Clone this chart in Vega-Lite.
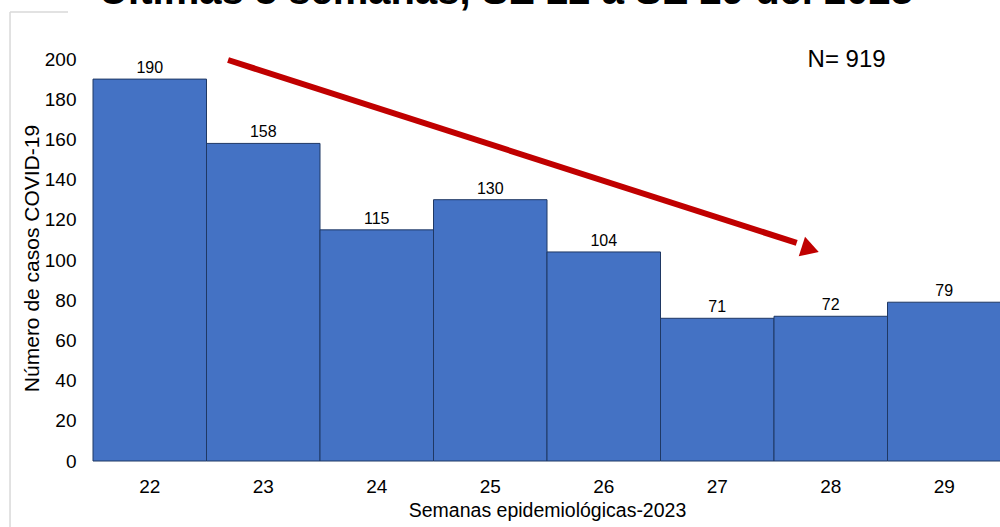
{
  "$schema": "https://vega.github.io/schema/vega-lite/v6.json",
  "autosize": {"type": "none"},
  "width": 908,
  "height": 402,
  "padding": {"left": 93, "top": 59, "right": 0, "bottom": 66},
  "background": "white",
  "config": {"font": "Liberation Sans", "view": {"stroke": null}},
  "datasets": {
    "bars": [
      {"semana": "22", "casos": 190},
      {"semana": "23", "casos": 158},
      {"semana": "24", "casos": 115},
      {"semana": "25", "casos": 130},
      {"semana": "26", "casos": 104},
      {"semana": "27", "casos": 71},
      {"semana": "28", "casos": 72},
      {"semana": "29", "casos": 79}
    ],
    "arrow": [
      {"x": 1.19, "y": 199.5, "x2": 6.2, "y2": 108.5}
    ],
    "head": [
      {"x": 6.32, "y": 105.3}
    ],
    "notes": [
      {"x": 6.64, "y": 199.5, "label": "N= 919"}
    ],
    "title": [
      {"x": 3.64, "y": 227.5, "label": "Últimas 8 semanas, SE 22 a SE 29 del 2023"}
    ],
    "frame": [
      {"x": -0.731, "y": 223.4, "x2": -0.731, "y2": -40},
      {"x": -0.731, "y": 223.4, "x2": -0.22, "y2": 223.4}
    ]
  },
  "layer": [
    {
      "data": {"name": "bars"},
      "encoding": {
        "x": {
          "field": "semana",
          "type": "ordinal",
          "scale": {"paddingInner": 0, "paddingOuter": 0},
          "axis": {
            "title": "Semanas epidemiológicas-2023",
            "titleFontSize": 19.5,
            "titleFontWeight": "normal",
            "titleColor": "black",
            "titlePadding": 5,
            "labelFontSize": 19,
            "labelColor": "black",
            "labelAngle": 0,
            "labelPadding": 16,
            "domain": false,
            "ticks": false,
            "grid": false
          }
        },
        "y": {
          "field": "casos",
          "type": "quantitative",
          "scale": {"domain": [0, 200]},
          "axis": {
            "title": "Número de casos COVID-19",
            "titleFontSize": 21,
            "titleFontWeight": "normal",
            "titleColor": "black",
            "titleAngle": 270,
            "titleX": -55,
            "titleY": 199,
            "titleAlign": "center",
            "titleBaseline": "alphabetic",
            "labelFontSize": 19,
            "labelColor": "black",
            "labelPadding": 17,
            "values": [0, 20, 40, 60, 80, 100, 120, 140, 160, 180, 200],
            "domain": false,
            "ticks": false,
            "grid": false
          }
        }
      },
      "layer": [
        {"mark": {"type": "bar", "fill": "#4472C4", "stroke": "#1F3864", "strokeWidth": 1}},
        {
          "mark": {"type": "text", "fontSize": 16, "color": "black", "baseline": "bottom", "dy": -3},
          "encoding": {"text": {"field": "casos", "type": "quantitative"}}
        }
      ]
    },
    {
      "data": {"name": "frame"},
      "mark": {"type": "rule", "color": "#d9d9d9", "strokeWidth": 1.5},
      "encoding": {
        "x": {"field": "x", "type": "quantitative", "scale": {"domain": [0, 8]}, "axis": null},
        "x2": {"field": "x2"},
        "y": {"field": "y", "type": "quantitative", "scale": {"domain": [0, 200]}, "axis": null},
        "y2": {"field": "y2"}
      }
    },
    {
      "data": {"name": "title"},
      "mark": {"type": "text", "fontSize": 40, "fontWeight": "bold", "color": "black", "align": "center", "baseline": "alphabetic"},
      "encoding": {
        "x": {"field": "x", "type": "quantitative", "scale": {"domain": [0, 8]}, "axis": null},
        "y": {"field": "y", "type": "quantitative", "scale": {"domain": [0, 200]}, "axis": null},
        "text": {"field": "label"}
      }
    },
    {
      "data": {"name": "arrow"},
      "mark": {"type": "rule", "color": "#C00000", "strokeWidth": 6},
      "encoding": {
        "x": {"field": "x", "type": "quantitative", "scale": {"domain": [0, 8]}, "axis": null},
        "x2": {"field": "x2"},
        "y": {"field": "y", "type": "quantitative", "scale": {"domain": [0, 200]}, "axis": null},
        "y2": {"field": "y2"}
      }
    },
    {
      "data": {"name": "head"},
      "mark": {"type": "point", "shape": "triangle-right", "filled": true, "color": "#C00000", "opacity": 1, "size": 420, "angle": 18},
      "encoding": {
        "x": {"field": "x", "type": "quantitative", "scale": {"domain": [0, 8]}, "axis": null},
        "y": {"field": "y", "type": "quantitative", "scale": {"domain": [0, 200]}, "axis": null}
      }
    },
    {
      "data": {"name": "notes"},
      "mark": {"type": "text", "fontSize": 24, "color": "black", "align": "center", "baseline": "middle"},
      "encoding": {
        "x": {"field": "x", "type": "quantitative", "scale": {"domain": [0, 8]}, "axis": null},
        "y": {"field": "y", "type": "quantitative", "scale": {"domain": [0, 200]}, "axis": null},
        "text": {"field": "label"}
      }
    }
  ],
  "resolve": {"scale": {"x": "independent", "y": "independent"}}
}
